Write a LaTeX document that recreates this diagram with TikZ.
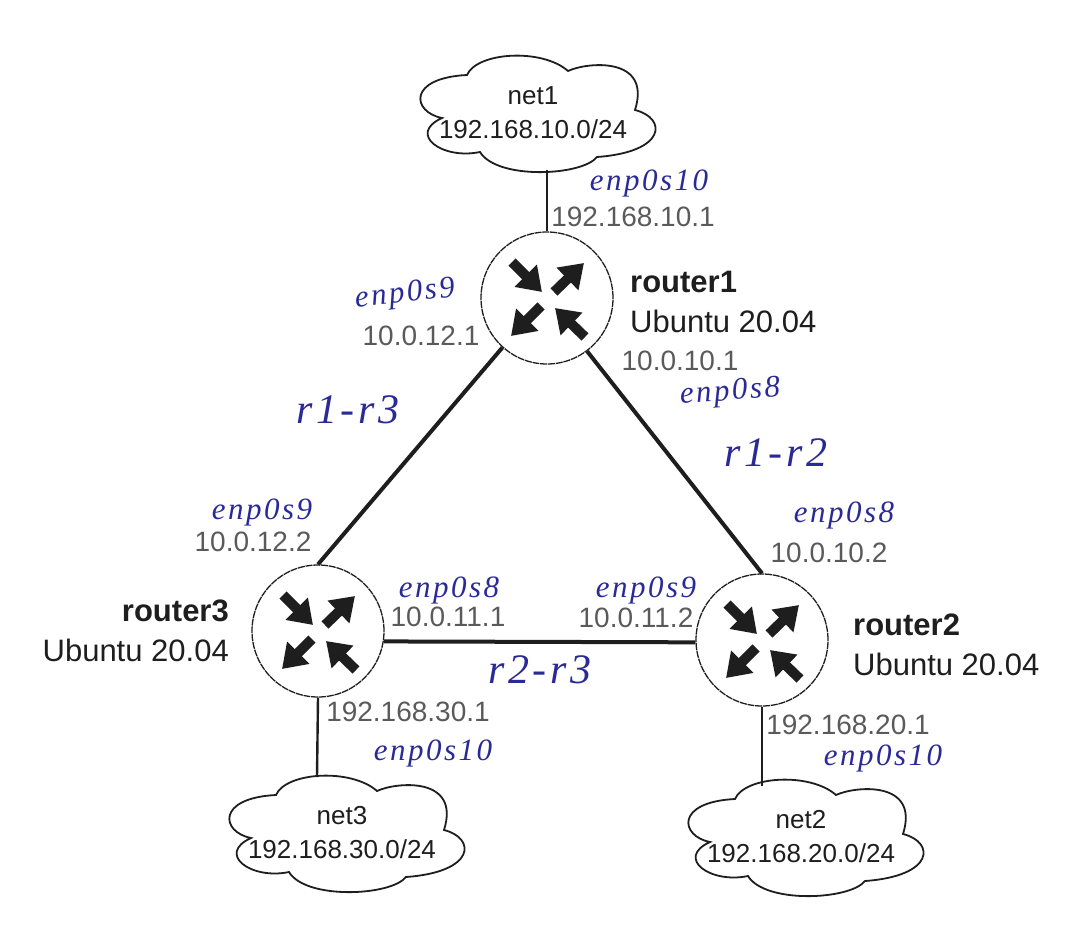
\documentclass[tikz,border=0pt]{standalone}
\usepackage{fontspec}
\setmainfont{Liberation Sans}
\newfontfamily\handfont[LetterSpace=8]{Liberation Serif}
\usetikzlibrary{arrows.meta,positioning}
\definecolor{inkgray}{HTML}{5A5A5A}
\definecolor{inkblack}{HTML}{1E1E1E}
\definecolor{penblue}{HTML}{2A2A96}

\tikzset{
    pics/netcloud/.style 2 args={code={
        \draw[inkblack, line width=1.8pt, fill=white]
            (-95,4) .. controls (-125,-2) and (-130,-36) .. (-70,-39)
            .. controls (-60,-62) and (5,-66) .. (31,-43)
            .. controls (50,-52) and (115,-58) .. (98,-4)
            .. controls (130,4) and (130,38) .. (60,43)
            .. controls (45,62) and (-40,66) .. (-57,38)
            .. controls (-95,46) and (-130,20) .. (-95,4) -- cycle;
        \coordinate (-top) at (-29,-57);
        \coordinate (-bottom) at (10,56);
        \node[nettext] (-name) at (-4,-18) {#1};
        \node[nettext] (-addr) at (-4,15) {#2};
    }},
}

\begin{document}
\begin{tikzpicture}[
    x=1pt, y=-1pt,
    routerarrow/.style={-{Triangle[length=23pt,width=30pt]}, line width=10pt, color=inkblack},
    router/.style={circle, draw=inkblack, line width=1.3pt, dash pattern=on 7pt off 0.8pt, minimum size=132pt, inner sep=0pt,
        path picture={
            \foreach \xa/\ya/\xb/\yb in {-35/-36/-5/-6, 7/-6/37/-35, -6/8/-36/38, 38/39/8/10}
                \draw[routerarrow, solid] ([shift={(\xa,\ya)}]path picture bounding box.center)
                    -- ([shift={(\xb,\yb)}]path picture bounding box.center);
        }},
    ip/.style={font=\fontsize{28}{30}\selectfont, color=inkgray, inner sep=0pt},
    nettext/.style={font=\fontsize{26}{28}\selectfont, color=inkblack, inner sep=0pt},
    routertext/.style={font=\fontsize{31}{40}\selectfont, color=inkblack, inner sep=0pt},
    pen/.style={font=\handfont\itshape\fontsize{31}{33}\selectfont, color=penblue, inner sep=0pt},
    penlink/.style={font=\handfont\itshape\fontsize{42}{44}\selectfont, color=penblue, inner sep=0pt},
    wan/.style={line width=4pt, color=inkblack},
    lan/.style={line width=2.4pt, color=inkblack},
]
\useasboundingbox (0,0) rectangle (1076,928);

% Routers
\node[router] (router1) at (547,298) {};
\node[router] (router2) at (762,640) {};
\node[router] (router3) at (318,631) {};

% Router names
\node[routertext, align=left, anchor=west] (name1) at (630,302) {\textbf{router1}\\Ubuntu 20.04};
\node[routertext, align=right, anchor=east] (name3) at (229,631) {\textbf{router3}\\Ubuntu 20.04};
\node[routertext, align=left, anchor=west] (name2) at (853,645) {\textbf{router2}\\Ubuntu 20.04};

% Networks
\pic (net1) at (537,114) {netcloud={net1}{192.168.10.0/24}};
\pic (net2) at (805,838) {netcloud={net2}{192.168.20.0/24}};
\pic (net3) at (346,834) {netcloud={net3}{192.168.30.0/24}};

% Links between routers
\draw[wan] (router1.228) -- (router3.north);
\draw[wan] (router1.307) -- (router2.north);
\draw[wan] (router3.-9) -- (router2.182);

% Links to networks
\draw[lan] (net1-bottom) -- (router1.north);
\draw[lan] (router2.south) -- ([xshift=-14pt, yshift=-5pt]net2-top);
\draw[lan] (router3.south) -- (net3-top);

% Printed addresses
\node[ip] (ip1a) at (633,217) {192.168.10.1};
\node[ip] (ip1b) at (421,336) {10.0.12.1};
\node[ip] (ip1c) at (680,361) {10.0.10.1};
\node[ip] (ip3a) at (253,542) {10.0.12.2};
\node[ip] (ip2a) at (829,553) {10.0.10.2};
\node[ip] (ip3b) at (448,617) {10.0.11.1};
\node[ip] (ip2b) at (636,618) {10.0.11.2};
\node[ip] (ip3c) at (408,712) {192.168.30.1};
\node[ip] (ip2c) at (848,725) {192.168.20.1};

% Pen notes
\node[pen] (pen1a) at (649,183) {enp0s10};
\node[pen, rotate=6] (pen1b) at (405,295) {enp0s9};
\node[pen, rotate=4] (pen1c) at (730,393) {enp0s8};
\node[pen] (pen3a) at (262,512) {enp0s9};
\node[pen] (pen2a) at (844,515) {enp0s8};
\node[pen] (pen3b) at (449,590) {enp0s8};
\node[pen] (pen2b) at (646,590) {enp0s9};
\node[pen] (pen3c) at (433,753) {enp0s10};
\node[pen] (pen2c) at (883,758) {enp0s10};
\node[penlink] (r1r3) at (348,410) {r1-r3};
\node[penlink] (r1r2) at (776,453) {r1-r2};
\node[penlink] (r2r3) at (540,670) {r2-r3};

\end{tikzpicture}
\end{document}
